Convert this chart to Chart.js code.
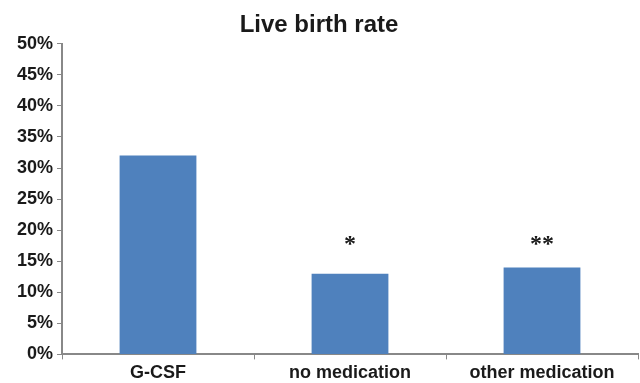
<!DOCTYPE html>
<html lang="en">
<head>
    <meta charset="UTF-8">
    <title>Live birth rate</title>
    <script src="https://cdn.jsdelivr.net/npm/chart.js"></script>
    <style>
        html, body { margin: 0; padding: 0; background: #fff; }
        #wrap { width: 640px; height: 383px; }
    </style>
</head>
<body>
    <div id="wrap"><canvas id="chart"></canvas></div>

    <script>
        // data
        const categories = ['G-CSF', 'no medication', 'other medication'];
        const liveBirthRate = [32, 13, 14];
        const significance = ['', '*', '**'];
        const markerLevel = 18;  // % height where the stars sit
        const yMax = 50;
        const yStep = 5;

        // draws the significance stars above the bars
        const starsPlugin = {
            id: 'stars',
            afterDatasetsDraw(chart) {
                const ctx = chart.ctx;
                const x = chart.scales.x;
                const y = chart.scales.y;
                ctx.save();
                ctx.font = 'bold 24px "Liberation Serif"';
                ctx.fillStyle = '#1a1a1a';
                ctx.textAlign = 'center';
                ctx.textBaseline = 'middle';
                significance.forEach((s, i) => {
                    if (s) ctx.fillText(s, x.getPixelForValue(i), y.getPixelForValue(markerLevel) + 2);
                });
                ctx.restore();
            }
        };

        const ctx = document.getElementById('chart').getContext('2d');
        new Chart(ctx, {
            type: 'bar',
            data: {
                labels: categories,
                datasets: [{
                    label: 'Live birth rate',
                    data: liveBirthRate,
                    backgroundColor: '#4F81BD',
                    categoryPercentage: 1,
                    barPercentage: 0.4
                }]
            },
            options: {
                responsive: true,
                maintainAspectRatio: false,
                animation: false,
                layout: { padding: { left: 0, right: 2, top: 0, bottom: -4 } },
                plugins: {
                    legend: { display: false },
                    tooltip: { enabled: false },
                    title: {
                        display: true,
                        text: 'Live birth rate',
                        color: '#1a1a1a',
                        font: { family: '"Liberation Sans", Arial', size: 24, weight: 'bold' },
                        padding: { top: 11, bottom: 4 }
                    }
                },
                scales: {
                    x: {
                        grid: {
                            offset: true,
                            drawOnChartArea: false,
                            color: '#888',
                            tickLength: 5
                        },
                        border: { color: '#888', width: 2 },
                        ticks: {
                            color: '#1a1a1a',
                            padding: 3,
                            font: { family: '"Liberation Sans", Arial', size: 18, weight: 'bold' }
                        }
                    },
                    y: {
                        min: 0,
                        max: yMax,
                        afterFit: s => { s.width = 62; },
                        grid: {
                            drawOnChartArea: false,
                            color: '#888',
                            tickLength: 5
                        },
                        border: { color: '#888', width: 2 },
                        ticks: {
                            stepSize: yStep,
                            color: '#1a1a1a',
                            padding: 4,
                            font: { family: '"Liberation Sans", Arial', size: 18, weight: 'bold' },
                            callback: v => v + '%'
                        }
                    }
                }
            },
            plugins: [starsPlugin]
        });
    </script>
</body>
</html>
